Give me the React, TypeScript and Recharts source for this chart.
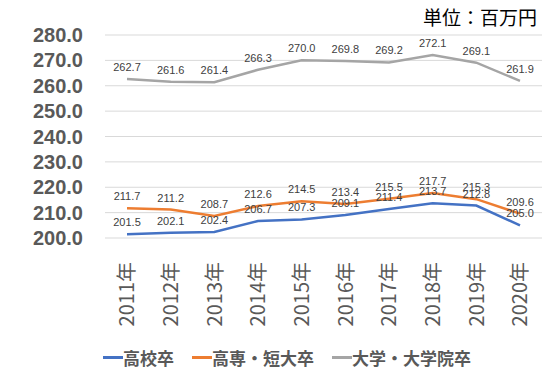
import React from "react";
import {
  LineChart,
  Line,
  XAxis,
  YAxis,
  CartesianGrid,
  LabelList,
} from "recharts";

const years = [
  "2011年",
  "2012年",
  "2013年",
  "2014年",
  "2015年",
  "2016年",
  "2017年",
  "2018年",
  "2019年",
  "2020年",
];

const highSchool = [201.5, 202.1, 202.4, 206.7, 207.3, 209.1, 211.4, 213.7, 212.8, 205.0];
const juniorCollege = [211.7, 211.2, 208.7, 212.6, 214.5, 213.4, 215.5, 217.7, 215.3, 209.6];
const university = [262.7, 261.6, 261.4, 266.3, 270.0, 269.8, 269.2, 272.1, 269.1, 261.9];

const yTicks = [200, 210, 220, 230, 240, 250, 260, 270, 280];

const series = [
  { key: "high", name: "高校卒", color: "#4472C4" },
  { key: "junior", name: "高専・短大卒", color: "#ED7D31" },
  { key: "univ", name: "大学・大学院卒", color: "#A5A5A5" },
];

const data = years.map((year, i) => ({
  year,
  high: highSchool[i],
  junior: juniorCollege[i],
  univ: university[i],
}));

const JP = '"Noto Sans CJK JP", "Noto Sans", sans-serif';
const NUM = '"Liberation Sans", Arial, sans-serif';

const YearTick = (props: any) => {
  const { x, y, payload } = props;
  return (
    <text
      transform={`translate(${x},${y + 24}) rotate(-90)`}
      textAnchor="end"
      dy="0.36em"
      fill="#595959"
      fontSize={20}
      fontFamily={JP}
    >
      {payload.value}
    </text>
  );
};

export default function App() {
  return (
    <div style={{ position: "absolute", left: 0, top: 0, width: 556, height: 375, background: "#fff" }}>
      <div
        style={{
          position: "absolute",
          left: 423,
          top: 3,
          fontFamily: JP,
          fontSize: 19,
          color: "#000",
          whiteSpace: "nowrap",
        }}
      >
        単位：百万円
      </div>
      <LineChart
        width={556}
        height={375}
        data={data}
        margin={{ top: 35, right: 14, left: 0, bottom: 0 }}
      >
        <CartesianGrid vertical={false} stroke="#d9d9d9" />
        <XAxis
          dataKey="year"
          axisLine={false}
          tickLine={false}
          tickSize={0}
          tickMargin={0}
          height={137}
          interval={0}
          padding={{ left: 22, right: 22 }}
          tick={<YearTick />}
        />
        <YAxis
          domain={[200, 280]}
          ticks={yTicks}
          interval={0}
          width={105}
          axisLine={false}
          tickLine={false}
          tickSize={0}
          tickMargin={22}
          tickFormatter={(v: number) => v.toFixed(1)}
          tick={{ fill: "#595959", fontSize: 20, fontWeight: 700, fontFamily: NUM }}
        />
        {series.map((s) => (
          <Line
            key={s.key}
            name={s.name}
            dataKey={s.key}
            stroke={s.color}
            strokeWidth={2.5}
            dot={false}
            isAnimationActive={false}
          >
            <LabelList
              dataKey={s.key}
              position="top"
              offset={8}
              fontSize={11}
              fill="#404040"
              fontFamily={NUM}
              formatter={(v: any) => Number(v).toFixed(1)}
            />
          </Line>
        ))}
      </LineChart>
      <div
        style={{
          position: "absolute",
          left: 103,
          top: 345,
          display: "flex",
          fontFamily: JP,
          fontSize: 17,
          fontWeight: 700,
          color: "#595959",
          whiteSpace: "nowrap",
        }}
      >
        {series.map((s) => (
          <div key={s.key} style={{ display: "flex", alignItems: "center", marginRight: 18 }}>
            <span style={{ display: "inline-block", width: 20, height: 3, backgroundColor: s.color }} />
            <span>{s.name}</span>
          </div>
        ))}
      </div>
    </div>
  );
}
